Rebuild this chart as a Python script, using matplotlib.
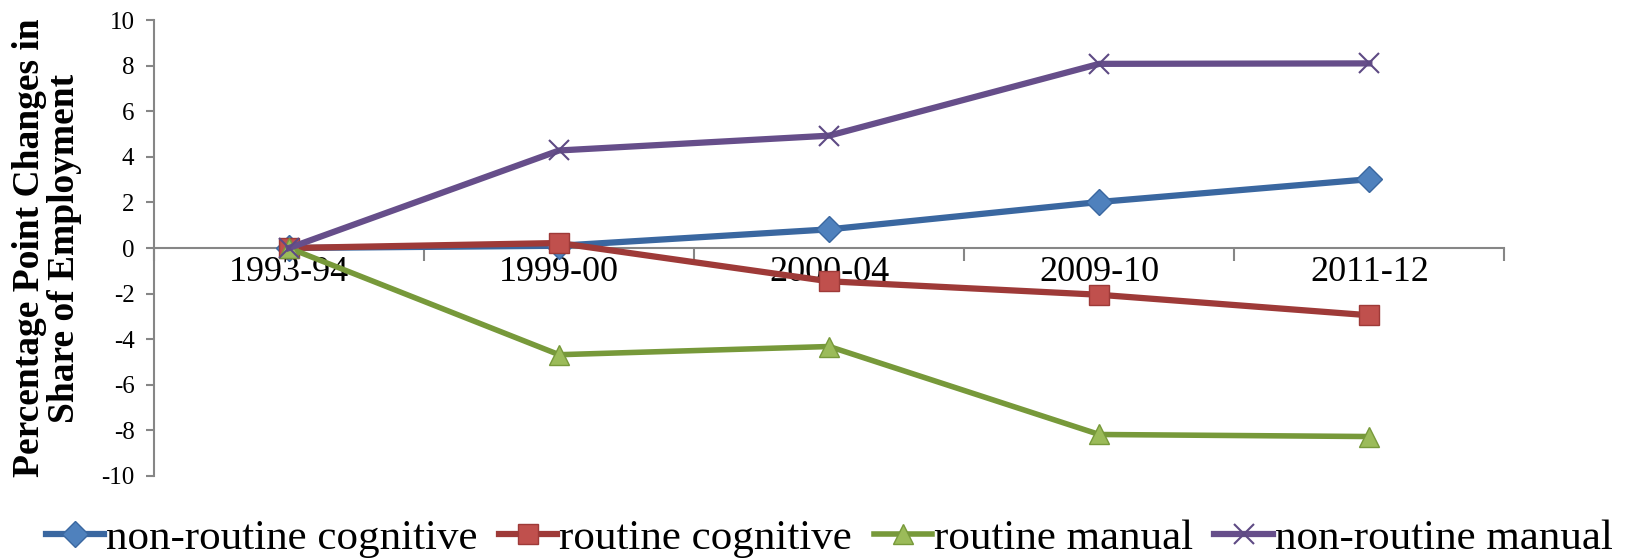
import matplotlib
matplotlib.use("Agg")
import matplotlib.pyplot as plt
from matplotlib.ticker import FixedLocator
import numpy as np

plt.rcParams['font.family'] = ['Liberation Serif', 'DejaVu Serif']
plt.rcParams['axes.unicode_minus'] = False

# data
periods = ["1993-94", "1999-00", "2000-04", "2009-10", "2011-12"]
non_routine_cognitive = [0.0, 0.1, 0.82, 2.02, 3.02]
routine_cognitive = [0.0, 0.22, -1.46, -2.05, -2.95]
routine_manual = [0.0, -4.68, -4.32, -8.18, -8.27]
non_routine_manual = [0.0, 4.28, 4.93, 8.08, 8.1]
y_ticks = list(range(-10, 11, 2))

fig = plt.figure(figsize=(16.29, 5.58), dpi=100)
ax = fig.add_axes([0.0945, 0.147, 0.829, 0.817])

x = np.arange(len(periods))

ax.plot(x, non_routine_cognitive, color='#3A67A0', lw=4.5, marker='D', ms=13,
        mfc='#4F81BD', mec='#3A67A0', mew=1, label='non-routine cognitive', zorder=3)
ax.plot(x, routine_cognitive, color='#9E3A38', lw=4.5, marker='s', ms=14,
        mfc='#C0504D', mec='#9E3A38', mew=1, label='routine cognitive', zorder=3)
ax.plot(x, routine_manual, color='#77993A', lw=4, marker='^', ms=15,
        mfc='#9BBB59', mec='#77993A', mew=1, label='routine manual', zorder=3)
ax.plot(x, non_routine_manual, color='#664E8A', lw=4.5, marker='x', ms=14,
        mec='#5E4A84', mew=1.5, label='non-routine manual', zorder=4)

ax.set_xlim(-0.5, len(periods) - 0.5)
ax.set_ylim(-10, 10)

# axes look
for s in ['top', 'right']:
    ax.spines[s].set_visible(False)
ax.spines['bottom'].set_position(('data', 0))
for s in ['left', 'bottom']:
    ax.spines[s].set_color('#868686')
    ax.spines[s].set_linewidth(1.5)

ax.set_xticks(x)
ax.set_xticklabels(periods, fontsize=26)
ax.xaxis.set_minor_locator(FixedLocator(np.arange(-0.5, len(periods), 1.0)))
ax.tick_params(axis='x', which='major', length=0, pad=6)
ax.tick_params(axis='x', which='minor', length=9, width=1.5, color='#868686', direction='out')

ax.set_yticks(y_ticks)
ax.set_yticklabels([str(v) for v in y_ticks], fontsize=18)
ax.tick_params(axis='y', length=6, width=1.5, color='#868686', direction='out', pad=8)

ax.set_ylabel("Percentage Point Changes in\nShare of Employment", fontsize=27,
              fontweight='bold', linespacing=1.0, labelpad=14)

ax.legend(loc='center', bbox_to_anchor=(0.5, -0.138), bbox_transform=ax.transAxes,
          ncol=4, frameon=False, fontsize=31, handlelength=1.35, handletextpad=0.05,
          columnspacing=0.5, borderaxespad=0)

fig.savefig("out.png", dpi=100)
